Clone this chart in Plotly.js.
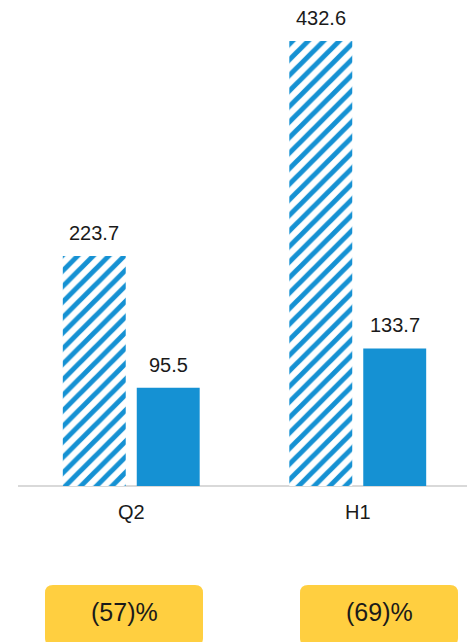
<!DOCTYPE html>
<html>
<head>
<meta charset="utf-8">
<script src="https://cdn.plot.ly/plotly-3.0.1.min.js"></script>
<style>html,body{margin:0;padding:0;background:#fff;overflow:hidden}#chart{width:467px;height:642px}</style>
</head>
<body>
<div id="chart"></div>
<script>
const categories = ['Q2', 'H1'];
const priorValues = [223.7, 432.6];
const currentValues = [95.5, 133.7];
const changeLabels = ['(57)%', '(69)%'];

const BLUE = '#1591D3';
const YELLOW = '#FFCF40';
const TEXT = '#1a1a1a';
const FONT = 'Liberation Sans, Arial, sans-serif';

const W = 467, H = 642;
const M = {l: 18, r: 0, t: 20, b: 156};
const PW = W - M.l - M.r, PH = H - M.t - M.b;
const px2x = p => (p - M.l) / PW;
const py2y = p => (H - M.b - p) / PH;

function roundRect(x0, y0, x1, y1, r) {
  const X0 = px2x(x0), X1 = px2x(x1), Y0 = py2y(y0), Y1 = py2y(y1);
  const rx = r / PW, ry = r / PH;
  return `M ${X0 + rx} ${Y0} L ${X1 - rx} ${Y0} Q ${X1} ${Y0} ${X1} ${Y0 - ry} ` +
         `L ${X1} ${Y1 + ry} Q ${X1} ${Y1} ${X1 - rx} ${Y1} L ${X0 + rx} ${Y1} ` +
         `Q ${X0} ${Y1} ${X0} ${Y1 + ry} L ${X0} ${Y0 - ry} Q ${X0} ${Y0} ${X0 + rx} ${Y0} Z`;
}

const traces = [
  {
    type: 'bar', x: categories, y: priorValues, name: 'Prior',
    marker: {color: '#ffffff', line: {width: 0},
      pattern: {shape: '/', size: 11, solidity: 0.45, fgcolor: BLUE, bgcolor: '#ffffff', fillmode: 'replace'}},
    hoverinfo: 'skip'
  },
  {
    type: 'bar', x: categories, y: currentValues, name: 'Current',
    marker: {color: BLUE, line: {width: 0}},
    hoverinfo: 'skip'
  }
];

const annotations = [];
categories.forEach((c, i) => {
  annotations.push({x: c, y: priorValues[i], xref: 'x', yref: 'y', text: priorValues[i].toFixed(1),
    showarrow: false, xshift: -37, yshift: 23, yanchor: 'middle', font: {size: 20, color: TEXT, family: FONT}});
  annotations.push({x: c, y: currentValues[i], xref: 'x', yref: 'y', text: currentValues[i].toFixed(1),
    showarrow: false, xshift: 37, yshift: 23, yanchor: 'middle', font: {size: 20, color: TEXT, family: FONT}});
});
const boxCenters = [124, 379];
changeLabels.forEach((t, i) => {
  annotations.push({x: px2x(boxCenters[i]), y: py2y(612), xref: 'paper', yref: 'paper', text: t,
    showarrow: false, xanchor: 'center', yanchor: 'middle', font: {size: 25, color: TEXT, family: FONT}});
});

const shapes = [
  {type: 'path', xref: 'paper', yref: 'paper', path: roundRect(45, 585, 203, 646, 8), fillcolor: YELLOW, line: {width: 0}, layer: 'below'},
  {type: 'path', xref: 'paper', yref: 'paper', path: roundRect(300, 585, 458, 646, 8), fillcolor: YELLOW, line: {width: 0}, layer: 'below'}
];

const layout = {
  width: W, height: H,
  margin: M,
  paper_bgcolor: '#ffffff', plot_bgcolor: '#ffffff',
  showlegend: false,
  barmode: 'group', bargap: 0.347, bargroupgap: 0.149,
  font: {family: FONT, color: TEXT, size: 20},
  xaxis: {type: 'category', range: [-0.5, -0.5 + PW / 226.5], showgrid: false, zeroline: false,
    showline: false, ticks: '', ticklabelstandoff: 12, tickfont: {size: 20, color: TEXT, family: FONT}, fixedrange: true},
  yaxis: {range: [0, PH / (445 / 432.6)], showgrid: false, zeroline: true, zerolinecolor: '#d9d9d9', zerolinewidth: 2,
    showticklabels: false, ticks: '', showline: false, fixedrange: true},
  annotations: annotations,
  shapes: shapes
};

Plotly.newPlot('chart', traces, layout, {displayModeBar: false, staticPlot: true});
</script>
</body>
</html>
